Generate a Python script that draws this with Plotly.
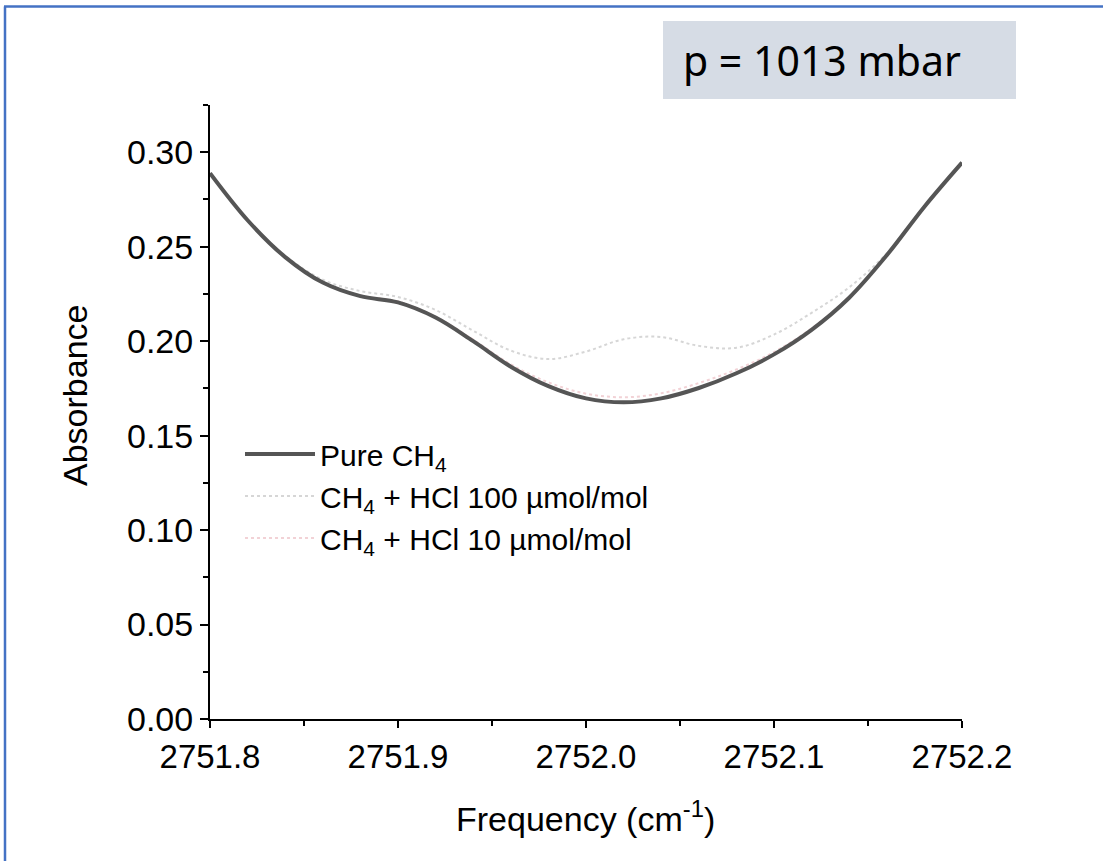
import plotly.graph_objects as go

# frequency grid (cm^-1)
freq = [2751.80, 2751.82, 2751.84, 2751.86, 2751.88, 2751.90, 2751.92, 2751.94,
        2751.96, 2751.98, 2752.00, 2752.02, 2752.04, 2752.06, 2752.08, 2752.10,
        2752.12, 2752.14, 2752.16, 2752.18, 2752.20]

# Pure CH4
abs_pure = [0.2889, 0.2640, 0.2445, 0.2310, 0.2238, 0.2205, 0.2125, 0.2000,
            0.1865, 0.1762, 0.1697, 0.1676, 0.1697, 0.1752, 0.1830, 0.1930,
            0.2060, 0.2230, 0.2455, 0.2712, 0.2945]

# CH4 + HCl 100 umol/mol
abs_100 = [0.2889, 0.2642, 0.2452, 0.2325, 0.2265, 0.2234, 0.2165, 0.2055,
           0.1950, 0.1905, 0.1945, 0.2010, 0.2022, 0.1975, 0.1965, 0.2035,
           0.2150, 0.2285, 0.2465, 0.2712, 0.2945]

# CH4 + HCl 10 umol/mol
abs_10 = [0.2889, 0.2641, 0.2447, 0.2313, 0.2242, 0.2210, 0.2130, 0.2008,
          0.1877, 0.1782, 0.1722, 0.1703, 0.1724, 0.1778, 0.1850, 0.1942,
          0.2068, 0.2235, 0.2457, 0.2712, 0.2945]

fig = go.Figure()
fig.add_trace(go.Scatter(x=freq, y=abs_10, mode="lines", line_shape="spline",
                         name="CH<sub>4</sub> + HCl 10 µmol/mol",
                         line=dict(color="#f2d2d6", width=2, dash="dot")))
fig.add_trace(go.Scatter(x=freq, y=abs_100, mode="lines", line_shape="spline",
                         name="CH<sub>4</sub> + HCl 100 µmol/mol",
                         line=dict(color="#d6d6d6", width=2, dash="dot")))
fig.add_trace(go.Scatter(x=freq, y=abs_pure, mode="lines", line_shape="spline",
                         name="Pure CH<sub>4</sub>",
                         line=dict(color="#555555", width=4)))

L, R, T, B = 210, 141, 105, 142
W, H = 1103, 861
pw, ph = W - L - R, H - T - B

def px(x):
    return (x - L) / pw

def py(y):
    return (H - B - y) / ph

font_family = "Liberation Sans, Arial, sans-serif"

fig.update_layout(
    width=W, height=H,
    margin=dict(l=L, r=R, t=T, b=B),
    paper_bgcolor="white", plot_bgcolor="white",
    showlegend=True,
    font=dict(family=font_family, size=34, color="black"),
    legend=dict(x=px(240), y=py(428), xanchor="left", yanchor="top",
                traceorder="reversed", bgcolor="rgba(0,0,0,0)",
                font=dict(size=30), itemwidth=70, tracegroupgap=0),
    xaxis=dict(range=[2751.8, 2752.2], tickvals=[2751.8, 2751.9, 2752.0, 2752.1, 2752.2],
               ticktext=["2751.8", "2751.9", "2752.0", "2752.1", "2752.2"],
               showgrid=False, zeroline=False, showline=True, linecolor="black", linewidth=2,
               ticks="outside", ticklen=7, tickwidth=2, tickcolor="black",
               minor=dict(dtick=0.05, tick0=2751.8, ticks="outside", ticklen=5, tickwidth=2, tickcolor="black"),
               tickfont=dict(size=33)),
    yaxis=dict(range=[0, 0.325], tickvals=[0, 0.05, 0.10, 0.15, 0.20, 0.25, 0.30],
               ticktext=["0.00", "0.05", "0.10", "0.15", "0.20", "0.25", "0.30"],
               showgrid=False, zeroline=False, showline=True, linecolor="black", linewidth=2,
               ticks="outside", ticklen=8, tickwidth=2, tickcolor="black",
               minor=dict(dtick=0.025, tick0=0, ticks="outside", ticklen=5, tickwidth=2, tickcolor="black"),
               tickfont=dict(size=34)),
)

# axis titles
fig.add_annotation(xref="paper", yref="paper", x=px(75), y=py(396),
                   xanchor="center", yanchor="middle", textangle=-90,
                   text="Absorbance", showarrow=False, font=dict(size=34))
fig.add_annotation(xref="paper", yref="paper", x=px(585), y=py(816),
                   xanchor="center", yanchor="middle",
                   text="Frequency (cm<sup>-1</sup>)", showarrow=False, font=dict(size=34))

# pressure label box
fig.add_shape(type="rect", xref="paper", yref="paper",
              x0=px(663), x1=px(1016), y0=py(99), y1=py(21),
              fillcolor="#D6DCE5", line=dict(width=0), layer="below")
fig.add_annotation(xref="paper", yref="paper", x=px(821.5), y=py(60),
                   xanchor="center", yanchor="middle",
                   text="p = 1013 mbar", showarrow=False,
                   font=dict(family="Noto Sans, Open Sans, sans-serif", size=41, color="black"))

# blue frame
fig.add_shape(type="line", xref="paper", yref="paper",
              x0=px(5), x1=px(5), y0=py(870), y1=py(6.5),
              line=dict(color="#4472C4", width=2.5))
fig.add_shape(type="line", xref="paper", yref="paper",
              x0=px(4), x1=px(1115), y0=py(6.5), y1=py(6.5),
              line=dict(color="#4472C4", width=2.5))

fig.write_html("out.html")
